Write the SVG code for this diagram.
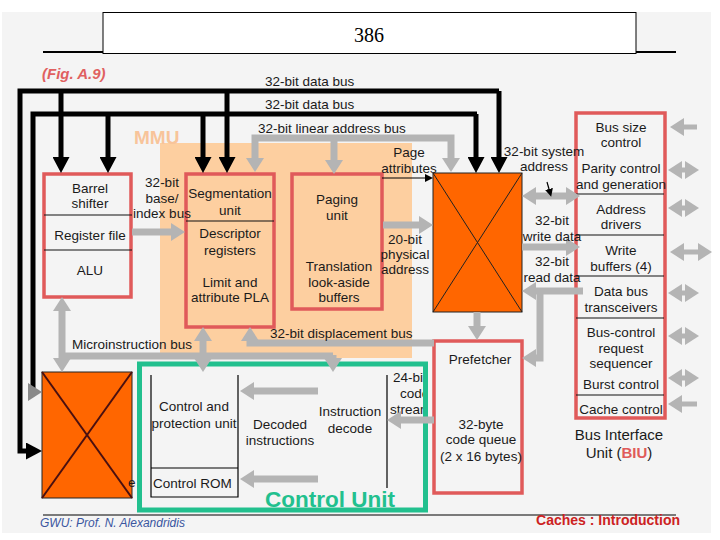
<svg xmlns="http://www.w3.org/2000/svg" width="720" height="540" viewBox="0 0 720 540">
<defs>
<style>
text{font-family:"Liberation Sans",Arial,sans-serif;font-size:13.5px;fill:#1a1a1a}
.c{text-anchor:middle}
.box{fill:none;stroke:#e05a5a;stroke-width:3.5}
.div{stroke:#111;stroke-width:1.2}
.bk{fill:none;stroke:#000;stroke-width:5}
.gr{fill:none;stroke:#b4b4b4;stroke-width:7}
.grs{fill:none;stroke:#b4b4b4;stroke-width:5}
.thin{fill:none;stroke:#000;stroke-width:1.2}
.xbox{fill:#ff6600;stroke:#222;stroke-width:1}
</style>
<marker id="g" markerUnits="userSpaceOnUse" viewBox="0 0 14 18" markerWidth="14" markerHeight="18" refX="0" refY="9" orient="auto-start-reverse"><path d="M0,0L14,9L0,18z" fill="#b4b4b4"/></marker>
<marker id="b" markerUnits="userSpaceOnUse" viewBox="0 0 16 17" markerWidth="16" markerHeight="17" refX="0" refY="8.5" orient="auto-start-reverse"><path d="M0,0L16,8.5L0,17z" fill="#000"/></marker>
<marker id="s" markerUnits="userSpaceOnUse" viewBox="0 0 8 8" markerWidth="8" markerHeight="8" refX="0" refY="4" orient="auto"><path d="M0,0L8,4L0,8z" fill="#000"/></marker>
<clipPath id="cuclip"><rect x="137" y="362" width="286" height="146"/></clipPath>
</defs>

<rect x="2" y="12" width="709" height="521" fill="#f4f4f4"/>

<g id="title">
<line x1="43" y1="52" x2="103" y2="52" stroke="#000" stroke-width="2"/>
<line x1="636" y1="52" x2="676" y2="52" stroke="#000" stroke-width="2"/>
<rect x="103" y="12.5" width="533" height="41" fill="#fff" stroke="#000" stroke-width="1"/>
<text x="369" y="42" class="c" style="font-family:'Liberation Serif','Times New Roman',serif;font-size:20px;fill:#000">386</text>
</g>

<text x="42" y="79" style="font-weight:bold;font-style:italic;font-size:15px;fill:#e06060">(Fig. A.9)</text>

<g id="mmu">
<rect x="160" y="143" width="252" height="215" fill="#fdcfa0"/>
<text x="134" y="144" style="font-weight:bold;font-size:19px;fill:#f8c49a">MMU</text>
</g>

<g id="barrel">
<rect x="44" y="174" width="87" height="123" class="box"/>
<line x1="44" y1="215" x2="132" y2="215" class="div"/>
<line x1="44" y1="250" x2="132" y2="250" class="div"/>
<text x="90" y="193" class="c">Barrel</text>
<text x="90" y="208" class="c">shifter</text>
<text x="90" y="240" class="c">Register file</text>
<text x="90" y="275" class="c">ALU</text>
</g>

<g id="segmentation">
<rect x="186" y="174" width="88" height="153" class="box"/>
<line x1="186" y1="221" x2="274" y2="221" class="div"/>
<text x="230" y="198" class="c">Segmentation</text>
<text x="230" y="215" class="c">unit</text>
<text x="230" y="238" class="c">Descriptor</text>
<text x="230" y="255" class="c">registers</text>
<text x="230" y="287" class="c">Limit and</text>
<text x="230" y="302" class="c">attribute PLA</text>
</g>

<g id="paging">
<rect x="292" y="174" width="90" height="135" class="box"/>
<text x="337" y="204" class="c">Paging</text>
<text x="337" y="220" class="c">unit</text>
<text x="339" y="271" class="c">Translation</text>
<text x="339" y="287" class="c">look-aside</text>
<text x="339" y="302" class="c">buffers</text>
</g>

<g id="cache-top">
<rect x="433" y="173" width="89" height="139" class="xbox"/>
<line x1="433" y1="173" x2="522" y2="312" stroke="#222" stroke-width="1"/>
<line x1="522" y1="173" x2="433" y2="312" stroke="#222" stroke-width="1"/>
</g>

<g id="cache-left">
<rect x="42" y="372" width="90" height="126" fill="#ff6600" stroke="#222" stroke-width="1"/>
<line x1="42" y1="372" x2="132" y2="498" stroke="#4a1010" stroke-width="2"/>
<line x1="132" y1="372" x2="42" y2="498" stroke="#4a1010" stroke-width="2"/>
<text x="128" y="487">e</text>
</g>

<g id="prefetcher">
<rect x="434" y="341" width="88" height="152" class="box"/>
<text x="480" y="364" class="c">Prefetcher</text>
<text x="481" y="429" class="c">32-byte</text>
<text x="481" y="444" class="c">code queue</text>
<text x="481" y="461" class="c">(2 x 16 bytes)</text>
</g>

<g id="biu">
<rect x="576" y="113" width="89" height="305" class="box"/>
<line x1="576" y1="194" x2="664" y2="194" class="div"/>
<line x1="576" y1="235" x2="664" y2="235" class="div"/>
<line x1="576" y1="276" x2="664" y2="276" class="div"/>
<line x1="576" y1="318" x2="664" y2="318" class="div"/>
<line x1="576" y1="395" x2="664" y2="395" class="div"/>
<text x="621" y="132" class="c">Bus size</text>
<text x="621" y="147" class="c">control</text>
<text x="621" y="173" class="c">Parity control</text>
<text x="621" y="189" class="c">and generation</text>
<text x="621" y="214" class="c">Address</text>
<text x="621" y="229" class="c">drivers</text>
<text x="621" y="255" class="c">Write</text>
<text x="621" y="271" class="c">buffers (4)</text>
<text x="621" y="296" class="c">Data bus</text>
<text x="621" y="312" class="c">transceivers</text>
<text x="621" y="337" class="c">Bus-control</text>
<text x="621" y="353" class="c">request</text>
<text x="621" y="368" class="c">sequencer</text>
<text x="621" y="389" class="c">Burst control</text>
<text x="621" y="414" class="c">Cache control</text>
<text x="619" y="440" class="c" style="font-size:15px">Bus Interface</text>
<text x="619" y="458" class="c" style="font-size:15px">Unit (<tspan style="fill:#e05a5a;font-weight:bold">BIU</tspan>)</text>
</g>

<g id="control-unit">
<rect x="139.5" y="364" width="286" height="146" fill="none" stroke="#22c08e" stroke-width="5"/>
<path d="M151,375 L151,497 L238,497 L238,375 M151,468 L238,468 M387,375 L387,488" class="thin"/>
<text x="194" y="411" class="c">Control and</text>
<text x="194" y="428" class="c">protection unit</text>
<text x="153" y="488">Control ROM</text>
<text x="280" y="429" class="c">Decoded</text>
<text x="280" y="445" class="c">instructions</text>
<text x="350" y="416" class="c">Instruction</text>
<text x="350" y="433" class="c">decode</text>
<g clip-path="url(#cuclip)">
<text x="393" y="382">24-bit</text>
<text x="400" y="398">code</text>
<text x="390" y="414">stream</text>
</g>
<text x="265" y="507" style="font-weight:bold;font-size:22.5px;fill:#22c08e">Control Unit</text>
</g>

<g id="connectors">
<path d="M499,91 L20,91 L20,451 L26,451" class="bk" marker-end="url(#b)"/>
<path d="M477,114 L33,114 L33,388" class="bk"/>
<polygon points="28,383 42,392 28,401" fill="#8a8a8a"/>
<path d="M61,91 L61,157" class="bk" marker-end="url(#b)"/>
<path d="M227,91 L227,157" class="bk" marker-end="url(#b)"/>
<path d="M499,91 L499,157" class="bk" marker-end="url(#b)"/>
<path d="M108,114 L108,157" class="bk" marker-end="url(#b)"/>
<path d="M203,114 L203,157" class="bk" marker-end="url(#b)"/>
<path d="M476,114 L476,157" class="bk" marker-end="url(#b)"/>

<path d="M255,158 L255,138 L451,138 L451,158" class="gr" marker-start="url(#g)" marker-end="url(#g)"/>
<path d="M334,138 L334,160" class="gr" marker-end="url(#g)"/>
<path d="M132,232 L171,232" class="gr" marker-end="url(#g)"/>
<path d="M382,178 L425,178" class="thin" marker-end="url(#s)"/>
<path d="M383,225 L419,225" class="gr" marker-end="url(#g)"/>
<path d="M536,196 L566,196" class="gr" marker-start="url(#g)" marker-end="url(#g)"/>
<path d="M547,182 L549,189" class="thin" marker-end="url(#s)"/>
<path d="M522,247 L566,247" class="gr" marker-end="url(#g)"/>
<path d="M583,291 L536,291" class="gr" marker-end="url(#g)"/>
<path d="M540,291 L540,358 L536,358" class="gr" marker-end="url(#g)"/>
<path d="M477,312 L477,326" class="gr" marker-end="url(#g)"/>

<path d="M62,356 L333,356" class="gr"/>
<path d="M62,311 L62,358" class="gr" marker-start="url(#g)" marker-end="url(#g)"/>
<path d="M203,341 L203,358" class="gr" marker-start="url(#g)" marker-end="url(#g)"/>
<path d="M333,355 L333,358" class="gr" marker-end="url(#g)"/>
<path d="M434,343 L250,343 L250,341" class="gr" marker-end="url(#g)"/>
<path d="M318,391 L254,391" class="gr" marker-end="url(#g)"/>
<path d="M318,479 L254,479" class="gr" marker-end="url(#g)"/>
<path d="M434,420 L401,420" class="gr" marker-end="url(#g)"/>

<path d="M697,127 L684,127" class="grs" marker-end="url(#g)"/>
<path d="M682,170 L685,170" class="grs" marker-start="url(#g)" marker-end="url(#g)"/>
<path d="M682,208 L685,208" class="grs" marker-start="url(#g)" marker-end="url(#g)"/>
<path d="M684,252 L698,252" class="grs" marker-start="url(#g)" marker-end="url(#g)"/>
<path d="M682,293 L685,293" class="grs" marker-start="url(#g)" marker-end="url(#g)"/>
<path d="M682,336 L685,336" class="grs" marker-start="url(#g)" marker-end="url(#g)"/>
<path d="M682,378 L685,378" class="grs" marker-start="url(#g)" marker-end="url(#g)"/>
<path d="M697,404 L682,404" class="grs" marker-end="url(#g)"/>
</g>

<g id="labels">
<text x="265" y="86">32-bit data bus</text>
<text x="265" y="109">32-bit data bus</text>
<text x="258" y="133">32-bit linear address bus</text>
<text x="162" y="187" class="c">32-bit</text>
<text x="162" y="203" class="c">base/</text>
<text x="162" y="218" class="c">index bus</text>
<text x="409" y="157" class="c">Page</text>
<text x="409" y="173" class="c">attributes</text>
<text x="405" y="244" class="c">20-bit</text>
<text x="405" y="259" class="c">physical</text>
<text x="405" y="274" class="c">address</text>
<text x="544" y="156" class="c">32-bit system</text>
<text x="544" y="171" class="c">address</text>
<text x="552" y="225" class="c">32-bit</text>
<text x="552" y="241" class="c">write data</text>
<text x="552" y="266" class="c">32-bit</text>
<text x="552" y="282" class="c">read data</text>
<text x="72" y="349">Microinstruction bus</text>
<text x="270" y="338">32-bit displacement bus</text>
</g>

<g id="footer">
<line x1="43" y1="515" x2="676" y2="515" stroke="#000" stroke-width="1"/>
<text x="40" y="527" style="font-style:italic;font-size:12px;fill:#3a56a0">GWU: Prof. N. Alexandridis</text>
<text x="680" y="525" style="text-anchor:end;font-weight:bold;font-size:14px;fill:#cc2222">Caches : Introduction</text>
</g>
</svg>
